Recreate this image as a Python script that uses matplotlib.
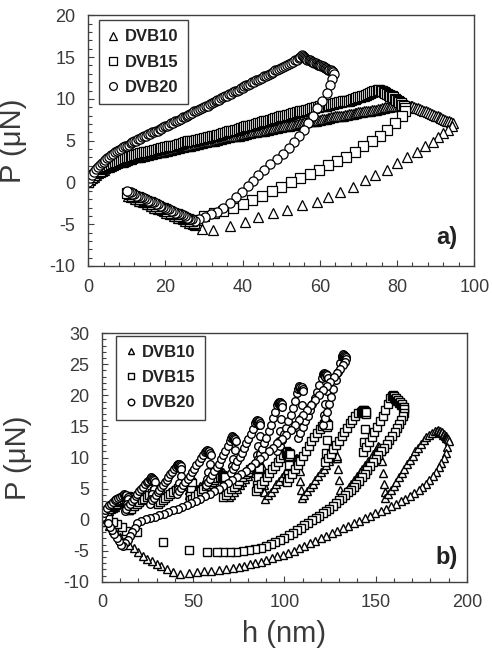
import matplotlib
matplotlib.use("Agg")
import matplotlib.pyplot as plt
from matplotlib.ticker import MultipleLocator

plt.rcParams['font.family'] = ['Liberation Sans', 'DejaVu Sans']
plt.rcParams['axes.unicode_minus'] = False

# ---------------- panel a) data (h in nm, P in uN) ----------------
a_dvb20 = [
    # loading
    (0, 0.0), (0.5, 0.5), (1, 0.9), (1.5, 1.3), (2, 1.6), (2.5, 1.9), (3, 2.1), (3.5, 2.3), (4, 2.5), (4.5, 2.7),
    (5, 2.9), (5.5, 3.1), (6, 3.3), (6.5, 3.4), (7, 3.6), (7.5, 3.8), (8, 3.9), (8.5, 4.0), (9, 4.2), (9.5, 4.3),
    (10, 4.4), (10.5, 4.5), (11, 4.7), (11.5, 4.8), (12, 4.9), (12.5, 5.0), (13, 5.2), (13.5, 5.2), (14, 5.4),
    (14.5, 5.5), (15, 5.6), (15.5, 5.8), (16, 5.8), (16.5, 6.0), (17, 6.0), (17.5, 6.2), (18, 6.2), (18.5, 6.4),
    (19, 6.4), (19.5, 6.6), (20, 6.7), (20.5, 6.8), (21, 6.9), (21.5, 7.1), (22, 7.1), (22.5, 7.3), (23, 7.4),
    (23.5, 7.5), (24, 7.6), (24.5, 7.8), (25, 7.8), (25.5, 8.0), (26, 8.1), (26.5, 8.2), (27, 8.3), (27.5, 8.5),
    (28, 8.5), (28.5, 8.7), (29, 8.8), (29.5, 8.9), (30, 9.0), (30.5, 9.2), (31, 9.2), (31.5, 9.4), (32, 9.5),
    (32.5, 9.6), (33, 9.7), (33.5, 9.9), (34, 9.9), (34.5, 10.1), (35, 10.2), (35.5, 10.3), (36, 10.4),
    (36.5, 10.6), (37, 10.6), (37.5, 10.8), (38, 10.9), (38.5, 11.0), (39, 11.1), (39.5, 11.3), (40, 11.3),
    (40.5, 11.5), (41, 11.6), (41.5, 11.7), (42, 11.8), (42.5, 12.0), (43, 12.0), (43.5, 12.2), (44, 12.3),
    (44.5, 12.4), (45, 12.5), (45.5, 12.7), (46, 12.7), (46.5, 12.9), (47, 13.0), (47.5, 13.1), (48, 13.2),
    (48.5, 13.4), (49, 13.4), (49.5, 13.6), (50, 13.7), (50.5, 13.8), (51, 13.9), (51.5, 14.1), (52, 14.2),
    (52.5, 14.3), (53, 14.4), (53.5, 14.6), (54, 14.7), (54.5, 14.9), (55, 15.0),
    # hold
    (55.3, 15.2), (55.6, 15.1), (55.9, 15.0), (56.2, 14.9), (56.5, 14.8), (56.8, 14.7), (57.1, 14.6),
    (57.4, 14.6), (57.7, 14.5), (58.0, 14.4), (58.3, 14.4), (58.6, 14.3), (58.9, 14.3), (59.2, 14.2),
    (59.5, 14.1), (59.8, 14.1), (60.1, 14.0), (60.4, 13.9), (60.7, 13.9), (61.0, 13.8), (61.3, 13.7),
    (61.6, 13.7), (61.9, 13.6), (62.2, 13.5), (62.5, 13.5), (62.8, 13.4), (63.1, 13.3), (63.4, 13.2),
    (63.6, 13.0),
    # unloading
    (63.2, 12.4), (62.7, 11.6), (61.8, 10.7), (60.6, 9.8), (59.4, 8.9), (58.3, 8.0), (57.0, 7.1), (55.8, 6.3),
    (54.5, 5.5), (53.3, 4.8), (52.0, 4.1), (50.5, 3.4), (49.0, 2.8), (47.2, 2.2), (45.6, 1.5), (44.0, 0.9),
    (42.7, 0.2), (41.3, -0.4), (39.8, -1.1), (38.3, -1.8), (36.8, -2.5), (35.0, -3.1), (33.4, -3.5),
    (31.8, -3.8), (30.3, -4.1), (28.8, -4.4), (27.6, -4.6),
    # pull-off band
    (27.0, -4.4), (26.5, -4.4), (26.0, -4.2), (25.5, -4.2), (25.0, -4.0), (24.5, -3.9), (24.0, -3.8),
    (23.5, -3.8), (23.0, -3.6), (22.5, -3.6), (22.0, -3.4), (21.5, -3.4), (21.0, -3.2), (20.5, -3.2),
    (20.0, -3.0), (19.5, -2.9), (19.0, -2.8), (18.5, -2.8), (18.0, -2.6), (17.5, -2.6), (17.0, -2.4),
    (16.5, -2.4), (16.0, -2.2), (15.5, -2.2), (15.0, -2.0), (14.5, -1.9), (14.0, -1.8), (13.5, -1.8),
    (13.0, -1.6), (12.5, -1.6), (12.0, -1.4), (11.5, -1.4), (11.0, -1.2), (10.5, -1.2), (10.2, -1.0),
]

a_dvb15 = [
    # loading
    (0, 0.0), (0.5, 0.4), (1, 0.7), (1.5, 0.9), (2, 1.1), (2.5, 1.3), (3, 1.4), (3.5, 1.6), (4, 1.7), (4.5, 1.9),
    (5, 2.0), (5.5, 2.1), (6, 2.2), (6.5, 2.3), (7, 2.4), (7.5, 2.5), (8, 2.6), (8.5, 2.7), (9, 2.8), (9.5, 2.9),
    (10, 3.0), (10.5, 3.1), (11, 3.1), (11.5, 3.2), (12, 3.3), (12.5, 3.3), (13, 3.4), (13.5, 3.5), (14, 3.5),
    (14.5, 3.6), (15, 3.7), (15.5, 3.7), (16, 3.8), (16.5, 3.8), (17, 3.9), (17.5, 3.9), (18, 4.0), (18.5, 4.0),
    (19, 4.1), (19.5, 4.1), (20, 4.2), (20.5, 4.2), (21, 4.3), (21.5, 4.3), (22, 4.4), (22.5, 4.4), (23, 4.5),
    (23.5, 4.6), (24, 4.6), (24.5, 4.7), (25, 4.8), (25.5, 4.8), (26, 4.9), (26.5, 4.9), (27, 5.0), (27.5, 5.0),
    (28, 5.1), (28.5, 5.1), (29, 5.2), (29.5, 5.2), (30, 5.3), (30.5, 5.3), (31, 5.4), (31.5, 5.4), (32, 5.5),
    (32.5, 5.6), (33, 5.6), (33.5, 5.7), (34, 5.7), (34.5, 5.8), (35, 5.9), (35.5, 5.9), (36, 6.0), (36.5, 6.1),
    (37, 6.1), (37.5, 6.2), (38, 6.3), (38.5, 6.3), (39, 6.4), (39.5, 6.5), (40, 6.5), (40.5, 6.6), (41, 6.7),
    (41.5, 6.7), (42, 6.8), (42.5, 6.9), (43, 6.9), (43.5, 7.0), (44, 7.1), (44.5, 7.1), (45, 7.2), (45.5, 7.3),
    (46, 7.3), (46.5, 7.4), (47, 7.5), (47.5, 7.5), (48, 7.6), (48.5, 7.7), (49, 7.7), (49.5, 7.8), (50, 7.9),
    (50.5, 7.9), (51, 8.0), (51.5, 8.1), (52, 8.1), (52.5, 8.2), (53, 8.3), (53.5, 8.3), (54, 8.4), (54.5, 8.4),
    (55, 8.5), (55.5, 8.6), (56, 8.6), (56.5, 8.7), (57, 8.7), (57.5, 8.8), (58, 8.9), (58.5, 8.9), (59, 9.0),
    (59.5, 9.0), (60, 9.1), (60.5, 9.1), (61, 9.2), (61.5, 9.2), (62, 9.3), (62.5, 9.3), (63, 9.4), (63.5, 9.4),
    (64, 9.5), (64.5, 9.5), (65, 9.6), (65.5, 9.6), (66, 9.7), (66.5, 9.7), (67, 9.8), (67.5, 9.8), (68, 9.9),
    (68.5, 10.0), (69, 10.0), (69.5, 10.1), (70, 10.2), (70.5, 10.2), (71, 10.3), (71.5, 10.4), (72, 10.5),
    (72.5, 10.6), (73, 10.7), (73.5, 10.8), (74, 10.9), (74.5, 11.0), (75, 11.1),
    # hold
    (75.4, 11.1), (75.8, 11.0), (76.2, 10.9), (76.6, 10.8), (77.0, 10.7), (77.4, 10.6), (77.8, 10.5),
    (78.2, 10.4), (78.6, 10.3), (79.0, 10.2), (79.4, 10.0), (79.8, 9.9), (80.2, 9.8), (80.6, 9.6),
    (81.0, 9.5), (81.4, 9.3), (81.8, 9.1), (82.1, 8.9),
    # unloading
    (82.0, 8.6), (81.3, 8.0), (79.5, 7.1), (77.4, 6.3), (75.5, 5.5), (73.5, 4.9), (71.3, 4.3), (69.0, 3.7),
    (66.8, 3.1), (64.5, 2.6), (62.2, 2.1), (59.8, 1.5), (57.5, 1.0), (55.0, 0.5), (52.5, 0.0),
    (50.0, -0.5), (47.5, -1.0), (45.0, -1.6), (42.5, -2.1), (40.0, -2.6), (37.5, -3.0), (35.0, -3.4),
    (32.5, -3.7), (30.0, -4.0), (28.2, -4.5),
    # pull-off band
    (27.5, -4.8), (27.0, -4.6), (26.5, -4.6), (26.0, -4.4), (25.5, -4.4), (25.0, -4.2), (24.5, -4.1),
    (24.0, -4.0), (23.5, -4.0), (23.0, -3.8), (22.5, -3.8), (22.0, -3.6), (21.5, -3.6), (21.0, -3.4),
    (20.5, -3.4), (20.0, -3.2), (19.5, -3.1), (19.0, -3.0), (18.5, -3.0), (18.0, -2.8), (17.5, -2.8),
    (17.0, -2.6), (16.5, -2.6), (16.0, -2.4), (15.5, -2.4), (15.0, -2.2), (14.5, -2.1), (14.0, -2.0),
    (13.5, -2.0), (13.0, -1.8), (12.5, -1.8), (12.0, -1.6), (11.5, -1.6), (11.0, -1.4), (10.5, -1.4),
    (10.2, -1.3),
]

a_dvb10 = [
    # loading
    (0, 0.0), (0.5, 0.3), (1, 0.5), (1.5, 0.7), (2, 0.9), (2.5, 1.1), (3, 1.2), (3.5, 1.4), (4, 1.5), (4.5, 1.7),
    (5, 1.8), (5.5, 1.9), (6, 2.0), (6.5, 2.1), (7, 2.2), (7.5, 2.3), (8, 2.4), (8.5, 2.5), (9, 2.5), (9.5, 2.6),
    (10, 2.7), (10.5, 2.8), (11, 2.8), (11.5, 2.9), (12, 3.0), (12.5, 3.0), (13, 3.1), (13.5, 3.1), (14, 3.2),
    (14.5, 3.2), (15, 3.3), (15.5, 3.3), (16, 3.4), (16.5, 3.4), (17, 3.5), (17.5, 3.5), (18, 3.6), (18.5, 3.6),
    (19, 3.7), (19.5, 3.7), (20, 3.8), (20.5, 3.8), (21, 3.9), (21.5, 3.9), (22, 4.0), (22.5, 4.0), (23, 4.1),
    (23.5, 4.1), (24, 4.2), (24.5, 4.2), (25, 4.3), (25.5, 4.3), (26, 4.4), (26.5, 4.4), (27, 4.5), (27.5, 4.5),
    (28, 4.6), (28.5, 4.6), (29, 4.7), (29.5, 4.7), (30, 4.8), (30.5, 4.8), (31, 4.9), (31.5, 4.9), (32, 5.0),
    (32.5, 5.0), (33, 5.1), (33.5, 5.1), (34, 5.2), (34.5, 5.2), (35, 5.3), (35.5, 5.3), (36, 5.4), (36.5, 5.4),
    (37, 5.5), (37.5, 5.5), (38, 5.5), (38.5, 5.6), (39, 5.6), (39.5, 5.7), (40, 5.7), (40.5, 5.8), (41, 5.8),
    (41.5, 5.9), (42, 5.9), (42.5, 6.0), (43, 6.0), (43.5, 6.0), (44, 6.1), (44.5, 6.1), (45, 6.2), (45.5, 6.2),
    (46, 6.3), (46.5, 6.3), (47, 6.4), (47.5, 6.4), (48, 6.5), (48.5, 6.5), (49, 6.5), (49.5, 6.6), (50, 6.6),
    (50.5, 6.7), (51, 6.7), (51.5, 6.8), (52, 6.8), (52.5, 6.9), (53, 6.9), (53.5, 6.9), (54, 7.0), (54.5, 7.0),
    (55, 7.1), (55.5, 7.1), (56, 7.2), (56.5, 7.2), (57, 7.3), (57.5, 7.3), (58, 7.3), (58.5, 7.4), (59, 7.4),
    (59.5, 7.5), (60, 7.5), (60.5, 7.6), (61, 7.6), (61.5, 7.6), (62, 7.7), (62.5, 7.7), (63, 7.8), (63.5, 7.8),
    (64, 7.9), (64.5, 7.9), (65, 7.9), (65.5, 8.0), (66, 8.0), (66.5, 8.1), (67, 8.1), (67.5, 8.2), (68, 8.2),
    (68.5, 8.2), (69, 8.3), (69.5, 8.3), (70, 8.4), (70.5, 8.4), (71, 8.4), (71.5, 8.5), (72, 8.5), (72.5, 8.6),
    (73, 8.6), (73.5, 8.7), (74, 8.7), (74.5, 8.7), (75, 8.8), (75.5, 8.8), (76, 8.9), (76.5, 8.9), (77, 9.0),
    (77.5, 9.0), (78, 9.0), (78.5, 9.1), (79, 9.1), (79.5, 9.2), (80, 9.2), (80.5, 9.2), (81, 9.3), (81.5, 9.3),
    (82, 9.4),
    # hold
    (82.5, 9.3), (83, 9.2), (83.5, 9.2), (84, 9.1), (84.5, 9.0), (85, 8.9), (85.5, 8.9), (86, 8.8),
    (86.5, 8.7), (87, 8.6), (87.5, 8.5), (88, 8.4), (88.5, 8.3), (89, 8.2), (89.5, 8.1), (90, 8.0),
    (90.5, 7.9), (91, 7.8), (91.5, 7.7), (92, 7.6), (92.5, 7.5), (93, 7.4), (93.5, 7.3), (94, 7.2),
    (94.5, 7.1),
    # unloading
    (94.3, 6.7), (93.3, 6.3), (92.0, 5.9), (90.7, 5.4), (89.4, 4.8), (87.3, 4.3), (85.2, 3.6), (82.6, 3.0),
    (80.0, 2.3), (77.5, 1.5), (74.4, 0.9), (71.8, 0.3), (68.7, -0.5), (65.3, -1.2), (62.2, -1.8),
    (59.3, -2.3), (55.5, -2.7), (51.6, -3.3), (47.9, -3.7), (44.0, -4.1), (40.7, -4.7), (36.8, -5.2),
    (32.4, -5.7), (29.5, -5.6), (27.8, -5.1),
    # pull-off band
    (27.2, -5.0), (26.7, -4.8), (26.2, -4.8), (25.7, -4.6), (25.2, -4.6), (24.7, -4.4), (24.2, -4.3),
    (23.7, -4.2), (23.2, -4.2), (22.7, -4.0), (22.2, -4.0), (21.7, -3.8), (21.2, -3.8), (20.7, -3.6),
    (20.2, -3.6), (19.7, -3.4), (19.2, -3.3), (18.7, -3.2), (18.2, -3.2), (17.7, -3.0), (17.2, -3.0),
    (16.7, -2.8), (16.2, -2.8), (15.7, -2.6), (15.2, -2.6), (14.7, -2.4), (14.2, -2.3), (13.7, -2.2),
    (13.2, -2.2), (12.7, -2.0), (12.2, -2.0), (11.7, -1.8), (11.2, -1.8), (10.7, -1.6), (10.3, -1.6),
]

# ---------------- panel b) data (cyclic indentation) ----------------
b_dvb20 = [
    (0, 0.5), (1, 1.0), (2, 1.5), (3, 1.9), (4, 2.3), (5, 2.6), (6, 2.9), (7, 3.1), (8, 3.3), (9, 3.5),
    (10, 3.6), (11, 3.8), (12, 3.9),
    (12.3, 4.1), (12.6, 3.7), (12.9, 4.0), (13.2, 3.5), (13.5, 3.9), (13.8, 3.4), (14.1, 3.7), (14.4, 3.3),
    (14.0, 2.6), (13.3, 1.9), (12.6, 1.4),
    (13.5, 1.8), (14.5, 2.2), (15.5, 2.6), (16.5, 3.0), (17.5, 3.4), (18.5, 3.8), (19.5, 4.2), (20.5, 4.6),
    (21.5, 5.0), (22.5, 5.3), (23.5, 5.7), (24.5, 6.0), (25.5, 6.3), (26.5, 6.6),
    (26.8, 6.8), (27.1, 6.4), (27.4, 6.7), (27.7, 6.2), (28.0, 6.6), (28.3, 6.1), (28.6, 6.4), (28.9, 6.0),
    (28.4, 5.0), (27.7, 4.1), (27.0, 3.3), (26.4, 2.6),
    (27.5, 3.1), (28.5, 3.5), (29.5, 4.0), (30.5, 4.4), (31.5, 4.8), (32.5, 5.2), (33.5, 5.6), (34.5, 6.0),
    (35.5, 6.4), (36.5, 6.9), (37.5, 7.3), (38.5, 7.7), (39.5, 8.1), (40.5, 8.5), (41.2, 8.8),
    (41.5, 9.0), (41.8, 8.6), (42.1, 8.9), (42.4, 8.4), (42.7, 8.8), (43.0, 8.3), (43.3, 8.6), (43.6, 8.2),
    (43.1, 7.0), (42.4, 5.9), (41.7, 5.0), (41.0, 4.2),
    (42.2, 4.6), (43.4, 5.1), (44.6, 5.6), (45.8, 6.1), (47.0, 6.6), (48.2, 7.1), (49.4, 7.7), (50.6, 8.2),
    (51.8, 8.8), (53.0, 9.3), (54.2, 9.9), (55.4, 10.4), (56.6, 10.9), (57.3, 11.0),
    (57.6, 11.2), (57.9, 10.8), (58.2, 11.1), (58.5, 10.6), (58.8, 11.0), (59.1, 10.5), (59.4, 10.8), (59.7, 10.4),
    (59.2, 9.0), (58.4, 7.7), (57.6, 6.6), (56.9, 5.6),
    (58.1, 6.1), (59.3, 6.6), (60.5, 7.2), (61.7, 7.8), (62.9, 8.4), (64.1, 9.0), (65.3, 9.7), (66.5, 10.4),
    (67.7, 11.1), (68.9, 11.8), (70.1, 12.6), (71.0, 13.2),
    (71.3, 13.4), (71.6, 13.0), (71.9, 13.3), (72.2, 12.8), (72.5, 13.2), (72.8, 12.7), (73.1, 13.0), (73.4, 12.6),
    (72.9, 11.2), (72.1, 9.8), (71.4, 8.6), (70.7, 7.5),
    (71.9, 8.1), (73.1, 8.7), (74.3, 9.4), (75.5, 10.1), (76.7, 10.8), (77.9, 11.5), (79.1, 12.3), (80.3, 13.0),
    (81.5, 13.8), (82.7, 14.6), (83.9, 15.5), (84.5, 15.8),
    (84.8, 16.0), (85.1, 15.6), (85.4, 15.9), (85.7, 15.4), (86.0, 15.8), (86.3, 15.3), (86.6, 15.6), (86.9, 15.2),
    (86.4, 13.5), (85.6, 11.9), (84.9, 10.4), (84.2, 9.1),
    (85.4, 9.8), (86.6, 10.6), (87.8, 11.4), (89.0, 12.3), (90.2, 13.2), (91.4, 14.2), (92.6, 15.2), (93.8, 16.3),
    (95.0, 17.4), (96.0, 18.4), (96.5, 18.8),
    (96.8, 19.0), (97.1, 18.6), (97.4, 18.9), (97.7, 18.4), (98.0, 18.8), (98.3, 18.3), (98.6, 18.6), (98.9, 18.2),
    (98.4, 16.2), (97.6, 14.3), (96.9, 12.6), (96.2, 11.1),
    (97.4, 11.9), (98.6, 12.8), (99.8, 13.8), (101.0, 14.8), (102.2, 15.8), (103.4, 16.9), (104.6, 18.0),
    (105.8, 19.1), (107.0, 20.3), (107.6, 21.0), (107.9, 21.3),
    (108.2, 21.5), (108.5, 21.1), (108.8, 21.4), (109.1, 20.9), (109.4, 21.3), (109.7, 20.8), (110.0, 21.1),
    (110.3, 20.7),
    (109.7, 18.5), (108.9, 16.4), (108.2, 14.6), (107.5, 13.1),
    (108.8, 14.0), (110.1, 14.9), (111.4, 15.8), (112.7, 16.7), (114.0, 17.6), (115.3, 18.6), (116.6, 19.6),
    (117.9, 20.6), (119.2, 21.7), (120.5, 22.8), (121.3, 23.4),
    (121.6, 23.6), (121.9, 23.2), (122.2, 23.5), (122.5, 23.0), (122.8, 23.4), (123.1, 22.9), (123.4, 23.2),
    (123.7, 22.8),
    (123.1, 20.7), (122.3, 18.6), (121.6, 16.8), (120.9, 15.2),
    (122.1, 16.3), (123.3, 17.4), (124.5, 18.6), (125.7, 19.8), (126.9, 21.1), (128.1, 22.4), (129.3, 23.8),
    (130.5, 25.2), (131.3, 26.1), (131.6, 26.4),
    (131.9, 26.6), (132.2, 26.2), (132.5, 26.5), (132.8, 26.0), (133.1, 26.4), (133.4, 25.9), (133.7, 26.2),
    (134.0, 25.8),
    # final unloading
    (133.2, 25.4), (132.0, 24.9), (130.5, 24.3), (128.8, 23.6), (127.0, 22.9), (125.2, 22.2), (123.3, 21.5),
    (121.3, 20.8), (119.2, 20.0), (117.0, 19.2), (114.8, 18.4), (112.6, 17.6), (110.3, 16.8), (108.0, 16.0),
    (105.7, 15.2), (103.4, 14.4), (101.0, 13.7), (98.6, 13.0), (96.2, 12.3), (93.8, 11.6), (91.4, 11.0),
    (89.0, 10.3), (86.5, 9.7), (84.0, 9.1), (81.5, 8.5), (79.0, 7.9), (76.5, 7.4), (74.0, 6.9), (71.5, 6.4),
    (69.0, 5.9), (66.5, 5.4), (64.0, 5.0), (61.5, 4.6), (59.0, 4.2), (56.5, 3.8), (54.0, 3.4), (51.5, 3.0),
    (49.0, 2.7), (46.5, 2.4), (44.0, 2.1), (41.5, 1.8), (39.0, 1.5), (36.5, 1.2), (34.0, 0.9), (31.5, 0.7),
    (29.0, 0.5), (26.5, 0.3), (24.0, 0.1), (21.5, -0.2), (19.5, -0.6), (18.0, -1.3),
    (16.5, -2.0), (15.3, -2.7), (14.1, -3.3), (12.9, -3.8), (11.7, -4.2), (10.5, -4.0), (9.3, -3.5),
    (8.1, -2.9), (6.9, -2.3), (5.7, -1.7), (4.5, -1.1), (3.3, -0.6),
]

b_dvb15 = [
    (0, 0.2), (1, 0.6), (2, 1.0), (3, 1.4), (4, 1.7), (5, 2.0), (6, 2.2), (7, 2.4), (8, 2.6), (9, 2.8),
    (10, 3.0), (11, 3.1), (12, 3.3), (13, 3.4), (14, 3.6),
    (14.3, 3.8), (14.6, 3.4), (14.9, 3.7), (15.2, 3.2), (15.5, 3.6), (15.8, 3.1), (16.1, 3.4),
    (15.7, 2.6), (15.2, 2.0), (14.8, 1.5),
    (16.2, 1.8), (17.6, 2.2), (19.0, 2.5), (20.4, 2.8), (21.8, 3.1), (23.2, 3.4), (24.6, 3.7), (26.0, 4.0),
    (27.4, 4.3), (28.8, 4.6), (29.8, 4.8),
    (30.1, 5.0), (30.4, 4.6), (30.7, 4.9), (31.0, 4.4), (31.3, 4.8), (31.6, 4.3), (31.9, 4.6),
    (31.5, 3.7), (31.0, 3.0), (30.6, 2.5),
    (32.0, 2.8), (33.4, 3.1), (34.8, 3.5), (36.2, 3.8), (37.6, 4.1), (39.0, 4.5), (40.4, 4.8), (41.8, 5.1),
    (43.2, 5.4), (44.6, 5.7), (46.0, 5.9), (47.3, 6.1),
    (47.6, 6.3), (47.9, 5.9), (48.2, 6.2), (48.5, 5.7), (48.8, 6.1), (49.1, 5.6), (49.4, 5.9),
    (49.0, 4.7), (48.5, 3.8), (48.1, 3.1),
    (49.6, 3.4), (51.1, 3.8), (52.6, 4.2), (54.1, 4.6), (55.6, 5.0), (57.1, 5.4), (58.6, 5.8), (60.1, 6.1),
    (61.6, 6.4), (63.1, 6.7), (64.6, 6.9), (65.6, 7.0),
    (65.9, 7.2), (66.2, 6.8), (66.5, 7.1), (66.8, 6.6), (67.1, 7.0), (67.4, 6.5), (67.7, 6.8),
    (67.2, 5.4), (66.7, 4.4), (66.3, 3.6),
    (67.8, 4.0), (69.3, 4.4), (70.8, 4.9), (72.3, 5.3), (73.8, 5.8), (75.3, 6.3), (76.8, 6.8), (78.3, 7.3),
    (79.8, 7.7), (81.3, 8.1), (82.8, 8.4), (83.8, 8.5),
    (84.1, 8.7), (84.4, 8.3), (84.7, 8.6), (85.0, 8.1), (85.3, 8.5), (85.6, 8.0), (85.9, 8.3),
    (85.4, 6.8), (84.8, 5.6), (84.3, 4.6),
    (85.8, 5.1), (87.3, 5.7), (88.8, 6.3), (90.3, 6.9), (91.8, 7.5), (93.3, 8.1), (94.8, 8.7), (96.3, 9.3),
    (97.8, 9.9), (99.3, 10.4), (100.8, 10.8),
    (101.1, 11.0), (101.4, 10.6), (101.7, 10.9), (102.0, 10.4), (102.3, 10.8), (102.6, 10.3), (102.9, 10.6),
    (102.4, 8.8), (101.8, 7.3), (101.3, 6.1),
    (102.8, 6.7), (104.3, 7.4), (105.8, 8.1), (107.3, 8.8), (108.8, 9.5), (110.3, 10.2), (111.8, 11.0),
    (113.3, 11.8), (114.8, 12.6), (116.3, 13.3), (117.8, 14.0), (119.3, 14.6), (120.8, 15.1), (121.8, 15.4),
    (122.1, 15.6), (122.4, 15.2), (122.7, 15.5), (123.0, 15.0), (123.3, 15.4), (123.6, 14.9), (123.9, 15.2),
    (123.4, 12.8), (122.8, 10.8), (122.3, 9.2),
    (123.8, 9.9), (125.3, 10.6), (126.8, 11.3), (128.3, 12.0), (129.8, 12.7), (131.3, 13.4), (132.8, 14.1),
    (134.3, 14.8), (135.8, 15.5), (137.3, 16.1), (138.8, 16.7), (140.3, 17.1), (141.8, 17.4), (142.8, 17.5),
    (143.1, 17.7), (143.4, 17.3), (143.7, 17.6), (144.0, 17.1), (144.3, 17.5), (144.6, 17.0), (144.9, 17.3),
    (144.4, 14.6), (143.8, 12.5), (143.3, 10.9),
    (144.8, 11.7), (146.3, 12.5), (147.8, 13.3), (149.3, 14.1), (150.8, 14.9), (152.3, 15.8), (153.8, 16.7),
    (155.3, 17.6), (156.8, 18.6), (158.0, 19.5), (158.8, 19.9),
    # hold
    (159.3, 20.1), (159.8, 19.7), (160.3, 19.9), (160.8, 19.4), (161.3, 19.6), (161.8, 19.1), (162.3, 19.3),
    (162.8, 18.8), (163.3, 19.0), (163.8, 18.5), (164.3, 18.6), (164.8, 18.1), (165.3, 18.2), (165.6, 17.8),
    # final unloading
    (165.5, 17.2), (164.8, 16.6), (164.0, 16.0), (163.0, 15.4), (161.8, 14.8), (160.5, 14.1), (159.0, 13.4),
    (157.5, 12.8), (156.0, 12.2), (154.5, 11.6), (153.0, 11.0), (151.5, 10.4), (150.0, 9.8), (148.5, 9.2),
    (147.0, 8.6), (145.5, 8.0), (144.0, 7.4), (142.5, 6.8), (141.0, 6.3), (139.5, 5.8), (138.0, 5.3),
    (136.5, 4.8), (135.0, 4.4), (133.3, 3.9), (131.6, 3.5), (129.9, 3.1), (128.2, 2.7), (126.5, 2.2),
    (124.7, 1.8), (122.9, 1.4), (121.0, 1.0), (119.1, 0.6), (117.2, 0.3), (115.2, -0.1), (113.1, -0.5),
    (111.0, -0.9), (108.9, -1.3), (106.8, -1.7), (104.6, -2.1), (102.3, -2.5), (100.0, -2.9), (97.6, -3.3),
    (95.1, -3.6), (92.5, -3.9), (89.8, -4.2), (87.0, -4.5), (84.0, -4.7), (80.8, -4.9), (77.3, -5.1),
    (73.7, -5.2), (70.0, -5.2), (66.5, -5.2), (63.0, -5.2), (57.5, -5.2), (48.0, -4.8), (33.6, -3.6),
    (19.0, -2.0),
    (13.5, -1.8), (11.0, -1.2), (8.5, -0.7), (6.0, -0.3), (3.5, 0.1),
]

b_dvb10 = [
    (0, 0.0), (1, 0.4), (2, 0.8), (3, 1.1), (4, 1.4), (5, 1.7), (6, 1.9), (7, 2.1), (8, 2.3), (9, 2.5),
    (10, 2.6), (11, 2.8), (12, 2.9),
    (12.3, 3.1), (12.6, 2.7), (12.9, 3.0), (13.2, 2.5), (13.5, 2.9), (13.8, 2.4), (14.1, 2.7),
    (14.4, 2.0), (14.7, 1.6),
    (16.0, 1.9), (17.2, 2.2), (18.4, 2.5), (19.6, 2.8), (20.8, 3.1), (22.0, 3.4), (23.2, 3.6), (24.4, 3.8),
    (25.6, 4.0), (26.8, 4.2), (27.0, 4.3),
    (27.3, 4.5), (27.6, 4.1), (27.9, 4.4), (28.2, 3.9), (28.5, 4.3), (28.8, 3.8), (29.1, 4.1),
    (29.5, 3.3), (29.9, 2.8),
    (31.3, 3.1), (32.7, 3.4), (34.1, 3.8), (35.5, 4.1), (36.9, 4.4), (38.3, 4.7), (39.7, 5.0), (41.1, 5.3),
    (42.5, 5.5), (43.9, 5.7), (45.0, 5.9),
    (45.3, 6.1), (45.6, 5.7), (45.9, 6.0), (46.2, 5.5), (46.5, 5.9), (46.8, 5.4), (47.1, 5.7),
    (47.5, 4.7), (47.9, 3.9),
    (49.4, 4.2), (50.9, 4.6), (52.4, 5.0), (53.9, 5.4), (55.4, 5.8), (56.9, 6.2), (58.4, 6.6), (59.9, 6.9),
    (61.4, 7.2), (62.9, 7.4), (64.4, 7.6), (65.0, 7.6),
    (65.3, 7.8), (65.6, 7.4), (65.9, 7.7), (66.2, 7.2), (66.5, 7.6), (66.8, 7.1), (67.1, 7.4),
    (67.7, 6.0), (68.3, 4.9), (68.9, 4.1), (69.5, 3.6),
    (71.0, 4.0), (72.5, 4.5), (74.0, 5.0), (75.5, 5.5), (77.0, 6.0), (78.5, 6.5), (80.0, 7.0), (81.5, 7.5),
    (83.0, 8.0), (84.5, 8.5), (85.5, 8.8),
    (85.8, 9.0), (86.1, 8.6), (86.4, 8.9), (86.7, 8.4), (87.0, 8.8), (87.3, 8.3), (87.6, 8.6),
    (88.1, 7.0), (88.6, 5.6), (89.1, 4.4), (89.6, 3.4),
    (91.1, 3.9), (92.6, 4.5), (94.1, 5.1), (95.6, 5.7), (97.1, 6.3), (98.6, 6.9), (100.1, 7.5), (101.6, 8.1),
    (103.1, 8.7), (104.6, 9.3), (105.8, 9.8),
    (106.1, 10.0), (106.4, 9.6), (106.7, 9.9), (107.0, 9.4), (107.3, 9.8), (107.6, 9.3), (107.9, 9.6),
    (108.3, 7.8), (108.7, 6.2), (109.1, 4.8), (109.5, 3.5),
    (111.0, 4.0), (112.5, 4.6), (114.0, 5.2), (115.5, 5.8), (117.0, 6.4), (118.5, 7.0), (120.0, 7.6),
    (121.5, 8.2), (123.0, 8.8), (124.5, 9.4), (126.0, 10.0), (127.0, 10.4),
    (127.3, 10.6), (127.6, 10.2), (127.9, 10.5), (128.2, 10.0), (128.5, 10.4), (128.8, 9.9), (129.1, 10.2),
    (129.5, 8.2), (129.9, 6.4), (130.3, 4.8), (130.7, 3.5),
    (132.2, 4.0), (133.7, 4.6), (135.2, 5.2), (136.7, 5.8), (138.2, 6.4), (139.7, 7.0), (141.2, 7.6),
    (142.7, 8.2), (144.2, 8.8), (145.7, 9.4), (147.2, 10.0), (148.7, 10.6), (150.2, 11.2), (151.2, 11.6),
    (151.5, 11.8), (151.8, 11.4), (152.1, 11.7), (152.4, 11.2), (152.7, 11.6), (153.0, 11.1), (153.3, 11.4),
    (153.7, 9.4), (154.1, 7.5), (154.5, 5.8), (154.9, 4.4), (155.3, 3.5),
    (156.8, 4.1), (158.3, 4.7), (159.8, 5.4), (161.3, 6.1), (162.8, 6.8), (164.3, 7.5), (165.8, 8.2),
    (167.3, 8.9), (168.8, 9.6), (170.3, 10.3), (171.8, 11.0), (173.3, 11.6), (174.8, 12.2), (176.3, 12.8),
    (177.8, 13.3), (179.3, 13.7), (180.8, 14.0), (182.3, 14.2), (183.8, 14.3),
    # hold
    (184.3, 14.5), (184.8, 14.1), (185.3, 14.3), (185.8, 13.9), (186.3, 14.1), (186.8, 13.7), (187.3, 13.8),
    (187.8, 13.4), (188.3, 13.5), (188.8, 13.1), (189.3, 13.2), (189.8, 12.9),
    # final unloading
    (190.0, 12.6), (189.3, 11.7), (188.4, 10.8), (187.3, 9.9), (186.0, 9.1), (184.6, 8.4), (183.0, 7.7),
    (181.3, 7.0), (179.5, 6.4), (177.6, 5.8), (175.6, 5.3), (173.5, 4.8), (171.2, 4.3), (168.8, 3.8),
    (166.3, 3.4), (163.7, 3.0), (161.0, 2.6), (158.3, 2.2), (155.5, 1.8), (152.7, 1.4), (149.8, 1.0),
    (146.9, 0.6), (144.0, 0.2), (141.0, -0.2), (138.0, -0.6), (135.0, -1.0), (132.0, -1.4), (129.0, -1.8),
    (126.0, -2.2), (123.0, -2.6), (120.0, -3.0), (117.0, -3.4), (114.0, -3.8), (111.0, -4.2), (108.0, -4.6),
    (105.0, -5.0), (102.0, -5.3), (99.0, -5.6), (96.0, -5.9), (93.0, -6.2), (90.0, -6.5), (87.0, -6.8),
    (84.0, -7.0), (81.0, -7.2), (78.0, -7.4), (75.0, -7.6), (72.0, -7.8), (68.0, -8.0), (64.0, -8.1),
    (60.0, -8.2), (56.0, -8.3), (52.0, -8.4), (48.0, -8.5), (43.0, -8.7), (39.0, -8.4), (35.6, -7.9),
    (32.5, -7.5), (30.0, -7.1), (27.5, -6.7), (25.0, -6.3), (22.5, -5.8), (20.0, -5.2), (17.5, -4.6),
    (15.0, -4.0), (12.5, -3.4), (10.0, -2.8), (8.0, -2.2), (6.0, -1.6), (4.0, -1.0), (2.0, -0.4),
]

labels = ['DVB10', 'DVB15', 'DVB20']
markers = ['^', 's', 'o']

fig = plt.figure(figsize=(4.92, 6.65), dpi=100)
ax1 = fig.add_axes([0.179, 0.600, 0.785, 0.377])
ax2 = fig.add_axes([0.207, 0.125, 0.742, 0.374])

spine_col = '#404040'
text_col = '#3a3a3a'


def draw(ax, series, ms, mew):
    handles = []
    for data, lab, mk in zip(series, labels, markers):
        hs = [p[0] for p in data]
        ps = [p[1] for p in data]
        (ln,) = ax.plot(hs, ps, linestyle='none', marker=mk, ms=ms, mfc='white',
                        mec='black', mew=mew, label=lab)
        handles.append(ln)
    return handles


def style(ax, xmax, xmaj, xmin, ymin, ymax):
    ax.set_xlim(0, xmax)
    ax.set_ylim(ymin, ymax)
    ax.xaxis.set_major_locator(MultipleLocator(xmaj))
    ax.xaxis.set_minor_locator(MultipleLocator(xmin))
    ax.yaxis.set_major_locator(MultipleLocator(5))
    ax.yaxis.set_minor_locator(MultipleLocator(1))
    ax.tick_params(which='both', direction='in', top=False, right=False, colors=spine_col,
                   labelcolor=text_col, labelsize=13, width=0.8)
    ax.tick_params(which='major', length=4, pad=9)
    ax.tick_params(which='minor', length=3)
    for s in ax.spines.values():
        s.set_color(spine_col)
        s.set_linewidth(1.0)


h1 = draw(ax1, [a_dvb10, a_dvb15, a_dvb20], 6.6, 0.9)
style(ax1, 100, 20, 4, -10, 20)
ax1.set_ylabel('P (μN)', fontsize=21, color=text_col)
ax1.yaxis.set_label_coords(-0.158, 0.5)
ax1.text(0.93, 0.115, 'a)', transform=ax1.transAxes, fontsize=17, fontweight='bold',
         ha='center', va='center', color='#222222')

h2 = draw(ax2, [b_dvb10, b_dvb15, b_dvb20], 5.5, 1.0)
style(ax2, 200, 50, 10, -10, 30)
ax2.set_ylabel('P (μN)', fontsize=21, color=text_col)
ax2.yaxis.set_label_coords(-0.19, 0.5)
ax2.set_xlabel('h (nm)', fontsize=21, color=text_col, labelpad=6)
ax2.text(0.945, 0.096, 'b)', transform=ax2.transAxes, fontsize=17, fontweight='bold',
         ha='center', va='center', color='#222222')

for ax, hd, anchor in [(ax1, h1, (0.028, 0.98)), (ax2, h2, (0.04, 0.99))]:
    leg = ax.legend(handles=hd, loc='upper left', bbox_to_anchor=anchor, frameon=True,
                    fancybox=False, edgecolor='#404040', framealpha=1, markerscale=0.85,
                    handlelength=0.6, handletextpad=0.4, borderpad=0.55, labelspacing=0.62,
                    prop={'weight': 'bold', 'size': 12}, borderaxespad=0)
    leg.get_frame().set_linewidth(1.0)
    for t in leg.get_texts():
        t.set_color('#222222')

fig.savefig('out.png', dpi=100)
